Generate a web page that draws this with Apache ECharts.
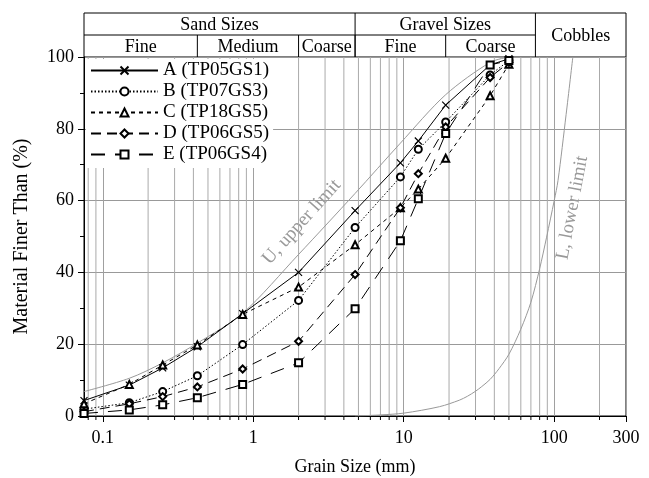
<!DOCTYPE html>
<html>
<head>
<meta charset="utf-8">
<title>Grain size distribution</title>
<script src="https://cdn.jsdelivr.net/npm/echarts@6/dist/echarts.min.js"></script>
</head>
<body style="margin: 0">
<div id="container" style="width: 649px; height: 478px"></div>
<script>
// sieve sizes (mm) and percent passing for each test pit
var sieveSizes = [0.075, 0.15, 0.25, 0.425, 0.85, 2, 4.75, 9.5, 12.5, 19, 37.5, 50];
var seriesA = [4.3, 8.6, 13.4, 19.3, 28.5, 40, 57.2, 70.5, 76.6, 86.6, 97.8, 99.5];
var seriesB = [1.9, 3.7, 6.8, 11.2, 19.9, 32.2, 52.5, 66.6, 74.3, 81.9, 95, 99];
var seriesC = [3.4, 8.8, 14.2, 19.8, 28.3, 35.9, 47.7, 58, 63.2, 71.8, 89.2, 98];
var seriesD = [1.2, 3.4, 5.4, 8.1, 13.1, 20.8, 39.4, 58, 67.5, 80.5, 94.3, 98.5];
var seriesE = [0.7, 1.7, 3.1, 5.1, 8.8, 14.8, 29.9, 48.8, 60.5, 78.7, 97.8, 99];
var names = ['A (TP05GS1)', 'B (TP07GS3)', 'C (TP18GS5)', 'D (TP06GS5)', 'E (TP06GS4)'];

// envelope curves
var upperSizes = [0.075, 0.15, 0.25, 0.425, 0.85, 2, 4.75, 9.5, 19, 37.5, 50];
var upperPass = [6.8, 10.5, 14.8, 20.3, 28.6, 45, 62, 76, 89.5, 98.5, 100];
var lowerSizes = [4.75, 7, 10, 17.3, 23.4, 26.5, 30, 33, 37.5, 43, 50, 60, 70, 80, 89, 100, 106, 120, 133];
var lowerPass = [0, 0.3, 0.8, 2.6, 4.4, 5.5, 6.9, 8.2, 10.2, 13.2, 17.2, 24.2, 31.7, 41, 49.8, 60, 65.6, 84, 100];

// soil classification header
var bandTop = ['Sand Sizes', 'Gravel Sizes', 'Cobbles'];
var bandTopEdges = [[0.075, 4.75], [4.75, 75], [75, 300]];
var bandSub = ['Fine', 'Medium', 'Coarse', 'Fine', 'Coarse'];
var bandSubEdges = [[0.075, 0.425], [0.425, 2], [2, 4.75], [4.75, 19], [19, 75]];

// log minor grid lines
var minorGrid = [0.08, 0.09, 0.2, 0.3, 0.4, 0.5, 0.6, 0.7, 0.8, 0.9,
    2, 3, 4, 5, 6, 7, 8, 9, 20, 30, 40, 50, 60, 70, 80, 90, 200];

var FONT = 'Liberation Serif';
var FS = 18;
var dom = document.getElementById('container');
var myChart = echarts.init(dom);

function pairs(xs, ys) {
    return xs.map(function (x, i) { return [x, ys[i]]; });
}

function testSeries(name, values, symbol, dash) {
    return {
        name: name,
        type: 'line',
        data: pairs(sieveSizes, values),
        symbol: symbol,
        symbolSize: 7,
        showAllSymbol: true,
        lineStyle: { color: '#000', width: 1, type: dash },
        itemStyle: { color: '#000', borderColor: '#000', borderWidth: 1.2 },
        z: 3
    };
}

var option = {
    animation: false,
    grid: {
        left: 84, right: 23, top: 57, bottom: 62,
        outerBoundsMode: 'none', containLabel: false,
        show: true, borderColor: '#000', borderWidth: 1
    },
    legend: {
        orient: 'vertical',
        left: 86,
        top: 59,
        itemWidth: 67,
        itemHeight: 10,
        itemGap: 2,
        padding: [2, 4, 4, 4],
        backgroundColor: '#fff',
        textStyle: { fontFamily: FONT, fontSize: 19, color: '#000' },
        data: names
    },
    xAxis: {
        type: 'log',
        logBase: 10,
        min: 0.075,
        max: 300,
        name: 'Grain Size (mm)',
        nameLocation: 'middle',
        nameGap: 42,
        nameTextStyle: { fontFamily: FONT, fontSize: 18, color: '#000' },
        axisLine: { lineStyle: { color: '#000' } },
        axisTick: { show: true, length: 6, lineStyle: { color: '#000' } },
        splitLine: { show: true, lineStyle: { color: '#a0a0a0' } },
        axisLabel: {
            fontFamily: FONT, fontSize: FS, color: '#000', margin: 13,
            showMinLabel: false, showMaxLabel: true,
            formatter: function (v) { return String(+v.toPrecision(3)); }
        }
    },
    yAxis: {
        type: 'value',
        min: 0,
        max: 100,
        interval: 20,
        name: 'Material Finer Than (%)',
        nameLocation: 'middle',
        nameGap: 52,
        nameTextStyle: { fontFamily: FONT, fontSize: 20, color: '#000' },
        axisLine: { show: true, lineStyle: { color: '#000' } },
        axisTick: { show: true, length: 6, lineStyle: { color: '#000' } },
        minorTick: { show: true, splitNumber: 2, length: 4, lineStyle: { color: '#000' } },
        splitLine: { lineStyle: { color: '#999' } },
        axisLabel: { fontFamily: FONT, fontSize: FS, color: '#000', margin: 10 }
    },
    series: [
        {
            type: 'custom',
            silent: true,
            z: 1,
            data: minorGrid.map(function (v) { return [v, 0]; }),
            encode: { x: 0, y: 1 },
            renderItem: function (params, api) {
                var v = api.value(0);
                var b = api.coord([v, 0]);
                var t = api.coord([v, 100]);
                return {
                    type: 'group',
                    children: [
                        { type: 'line', shape: { x1: b[0], y1: t[1], x2: b[0], y2: b[1] }, style: { stroke: '#aaa', lineWidth: 1 } },
                        { type: 'line', shape: { x1: b[0], y1: b[1], x2: b[0], y2: b[1] + 4 }, style: { stroke: '#000', lineWidth: 1 } }
                    ]
                };
            }
        },
        {
            name: 'U',
            type: 'line',
            data: pairs(upperSizes, upperPass),
            smooth: 0.3,
            symbol: 'none',
            lineStyle: { color: '#999', width: 1 },
            z: 2
        },
        {
            name: 'L',
            type: 'line',
            data: pairs(lowerSizes, lowerPass),
            smooth: 0.3,
            symbol: 'none',
            lineStyle: { color: '#999', width: 1 },
            z: 2
        },
        testSeries(names[0], seriesA, 'path://M0,0L10,10M0,10L10,0', 'solid'),
        testSeries(names[1], seriesB, 'emptyCircle', [1.5, 2]),
        testSeries(names[2], seriesC, 'emptyTriangle', [4, 4]),
        testSeries(names[3], seriesD, 'emptyDiamond', [10, 6]),
        testSeries(names[4], seriesE, 'emptyRect', [14, 10])
    ]
};
myChart.setOption(option);

// header table and curve labels, placed through the axis scale
var headTop = 13, headMid = 35, headBottom = 57;
function px(v) { return myChart.convertToPixel({ xAxisIndex: 0 }, v); }
var graphics = [];
var lineStyle = { stroke: '#000', lineWidth: 1 };
var font = FS + 'px "' + FONT + '"';
var labelFont = '19px "' + FONT + '"';
var xl = px(0.075), xr = px(300);
graphics.push({ type: 'line', shape: { x1: xl, y1: headTop, x2: xr, y2: headTop }, style: lineStyle });
graphics.push({ type: 'line', shape: { x1: xl, y1: headMid, x2: px(75), y2: headMid }, style: lineStyle });
graphics.push({ type: 'line', shape: { x1: xl, y1: headTop, x2: xl, y2: headBottom }, style: lineStyle });
graphics.push({ type: 'line', shape: { x1: xr, y1: headTop, x2: xr, y2: headBottom }, style: lineStyle });
bandTopEdges.forEach(function (e, i) {
    var a = px(e[0]), b = px(e[1]);
    if (i > 0) graphics.push({ type: 'line', shape: { x1: a, y1: headTop, x2: a, y2: headBottom }, style: lineStyle });
    var ty = i === 2 ? (headTop + headBottom) / 2 : (headTop + headMid) / 2;
    graphics.push({ type: 'text', x: (a + b) / 2, y: ty + 1, style: { text: bandTop[i], fill: '#000', font: font, align: 'center', verticalAlign: 'middle' } });
});
bandSubEdges.forEach(function (e, i) {
    var a = px(e[0]), b = px(e[1]);
    if (i > 0) graphics.push({ type: 'line', shape: { x1: a, y1: headMid, x2: a, y2: headBottom }, style: lineStyle });
    graphics.push({ type: 'text', x: (a + b) / 2, y: (headMid + headBottom) / 2 + 1, style: { text: bandSub[i], fill: '#000', font: font, align: 'center', verticalAlign: 'middle' } });
});

var uLabelAt = myChart.convertToPixel({ gridIndex: 0 }, [2.1, 54]);
var lLabelAt = myChart.convertToPixel({ gridIndex: 0 }, [132, 58]);
graphics.push({ type: 'text', x: uLabelAt[0], y: uLabelAt[1], rotation: 48 * Math.PI / 180, style: { text: 'U, upper limit', fill: '#999', font: labelFont, align: 'center', verticalAlign: 'middle' } });
graphics.push({ type: 'text', x: lLabelAt[0], y: lLabelAt[1], rotation: 79 * Math.PI / 180, style: { text: 'L, lower limit', fill: '#999', font: labelFont, align: 'center', verticalAlign: 'middle' } });

myChart.setOption({ graphic: graphics });
</script>
</body>
</html>
